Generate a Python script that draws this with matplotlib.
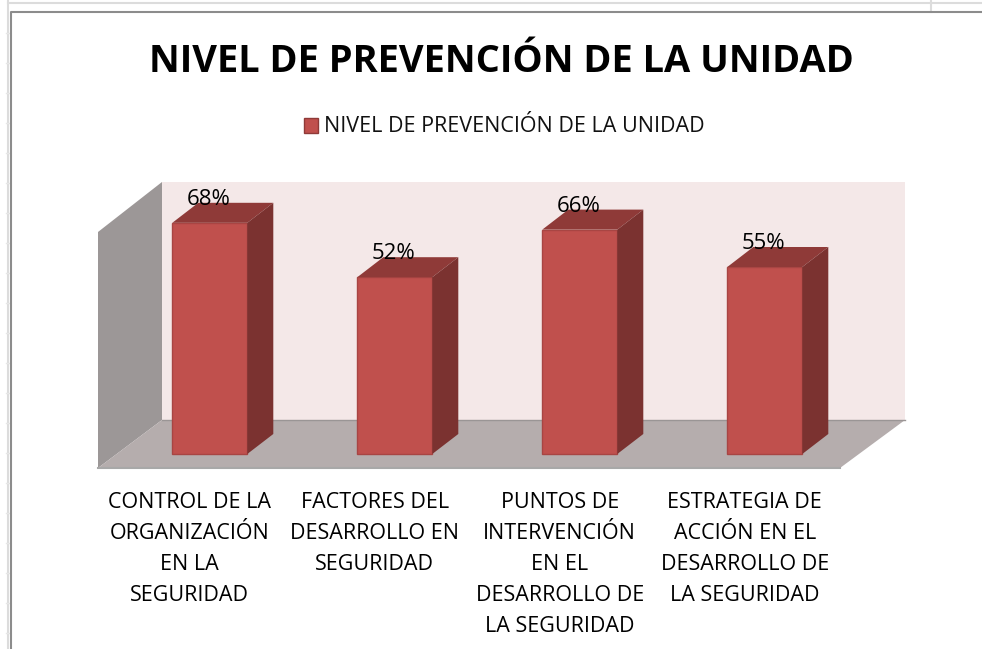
import matplotlib
matplotlib.use('Agg')
import matplotlib.pyplot as plt
from matplotlib.patches import Polygon, Rectangle
from matplotlib.lines import Line2D

title = 'NIVEL DE PREVENCIÓN DE LA UNIDAD'
categories = ['CONTROL DE LA\nORGANIZACIÓN\nEN LA\nSEGURIDAD',
              'FACTORES DEL\nDESARROLLO EN\nSEGURIDAD',
              'PUNTOS DE\nINTERVENCIÓN\nEN EL\nDESARROLLO DE\nLA SEGURIDAD',
              'ESTRATEGIA DE\nACCIÓN EN EL\nDESARROLLO DE\nLA SEGURIDAD']
values = [68, 52, 66, 55]
value_labels = ['68%', '52%', '66%', '55%']

W, H = 982, 649
PX_X = 185.0   # px per category
PX_Y = 3.4     # px per percent
X0 = 209.8     # px of first bar centre
Y0 = 454.0     # px of value 0

plt.rcParams['font.family'] = ['Open Sans', 'DejaVu Sans']

fig = plt.figure(figsize=(W / 100, H / 100), dpi=100)
ax = fig.add_axes([0, 0, 1, 1])
ax.set_xlim(-X0 / PX_X, (W - X0) / PX_X)
ax.set_ylim(-(H - Y0) / PX_Y, Y0 / PX_Y)
ax.axis('off')


def px(x, y):
    # picture pixels to data units, only for the furniture of the 3d box
    return ((x - X0) / PX_X, (Y0 - y) / PX_Y)


def poly(points, color, z=1, edge='none'):
    ax.add_patch(Polygon([px(a, b) for a, b in points], closed=True, facecolor=color,
                         edgecolor=edge, lw=1, zorder=z))


# spreadsheet grid behind the chart
grid = '#dcdcdc'
fig.add_artist(Line2D([8 / W, 1], [1 - 3 / H, 1 - 3 / H], color=grid, lw=1.5))
fig.add_artist(Line2D([8 / W, 8 / W], [0, 1], color=grid, lw=1.5))
fig.add_artist(Line2D([931 / W, 931 / W], [1 - 12 / H, 1], color=grid, lw=1.5))
for yy in range(33, 649, 30):
    fig.add_artist(Line2D([6 / W, 10 / W], [1 - yy / H, 1 - yy / H], color='#e6e6e6', lw=1))
# chart border
fig.add_artist(Line2D([11 / W, 11 / W, 1], [0, 1 - 12 / H, 1 - 12 / H], color='#8c8c8c', lw=1.5))

# walls and floor
poly([(162, 182), (905, 182), (905, 420), (162, 420)], '#f4e8e8')
poly([(98, 232), (162, 182), (162, 420), (98, 468)], '#9c9797')
poly([(98, 468), (162, 420), (905, 420), (840, 468)], '#b5adad', z=2)
ax.plot(*zip(px(162, 420), px(905, 420)), color='#9a9595', lw=1, zorder=2)
ax.plot(*zip(px(98, 468), px(840, 468)), color='#a8a8a8', lw=1.5, zorder=2)

# bars
half = 37.5 / PX_X
dx = 26 / PX_X
dy = 20 / PX_Y
for i, v in enumerate(values):
    ax.add_patch(Rectangle((i - half, 0), 2 * half, v, facecolor='#c0504d', edgecolor='#a84543', lw=1, zorder=3))
    ax.add_patch(Polygon([(i - half, v), (i + half, v), (i + half + dx, v + dy), (i - half + dx, v + dy)],
                         facecolor='#8f3a38', zorder=3))
    ax.add_patch(Polygon([(i + half, 0), (i + half + dx, dy), (i + half + dx, v + dy), (i + half, v)],
                         facecolor='#7b3230', zorder=3))
    ax.text(i - 1.5 / PX_X, v + 23.5 / PX_Y, value_labels[i], ha='center', va='center', fontsize=16, color='black', zorder=5)
    ax.text(i - 20 / PX_X, -37.5 / PX_Y, categories[i], ha='center', va='top', fontsize=15.5,
            linespacing=1.63, color='black', zorder=5)

fig.text(501.5 / W, 1 - 62 / H, title, ha='center', va='center', fontsize=27.4, fontweight='bold', color='black')

# legend
fig.add_artist(Rectangle((304 / W, 1 - 133 / H), 14 / W, 15 / H, transform=fig.transFigure,
                         facecolor='#c0504d', edgecolor='#8f3a38', lw=1))
fig.text(324 / W, 1 - 126 / H, title, ha='left', va='center', fontsize=15.5, color='#111111')

fig.savefig('out.png', dpi=100)
